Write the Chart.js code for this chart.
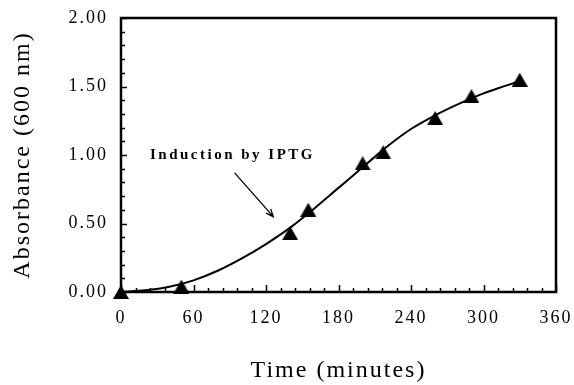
<!DOCTYPE html>
<html>
<head>
<meta charset="utf-8">
<script src="https://cdn.jsdelivr.net/npm/chart.js@4.4.1/dist/chart.umd.min.js"></script>
<style>
  html, body { margin: 0; padding: 0; background: #fff; }
  #wrap { width: 574px; height: 385px; }
</style>
</head>
<body>
<div id="wrap"><canvas id="chart" width="574" height="385"></canvas></div>
<script>
// measured points (triangles)
const timeMin = [0, 50, 140, 155, 200, 217, 260, 290, 330];
const absorb = [0.00, 0.04, 0.43, 0.60, 0.94, 1.02, 1.27, 1.43, 1.55];

// fitted growth curve
const curveTime = [0, 20, 40, 60, 80, 100, 120, 140, 160, 180, 200, 220, 240, 260, 280, 300, 320, 330];
const curveAbs = [0.00, 0.012, 0.038, 0.085, 0.155, 0.245, 0.35, 0.47, 0.61, 0.76, 0.91, 1.06, 1.19, 1.29, 1.375, 1.45, 1.51, 1.54];

const xTicks = [0, 60, 120, 180, 240, 300, 360];
const xMinor = [12, 24, 36, 48, 72, 84, 96, 108, 132, 144, 156, 168, 192, 204, 216, 228, 252, 264, 276, 288, 312, 324, 336, 348];
const yTicks = [0, 0.5, 1.0, 1.5, 2.0];
const yMinor = [0.1, 0.2, 0.3, 0.4, 0.6, 0.7, 0.8, 0.9, 1.1, 1.2, 1.3, 1.4, 1.6, 1.7, 1.8, 1.9];

const noteText = "Induction by IPTG";
const notePos = [24, 0.97];
const arrowFrom = [94, 0.87];
const arrowTo = [126, 0.55];

const SERIF = "'Liberation Serif', 'Times New Roman', serif";

// triangle marker centred on its bounding box
function makeTriangle(w, h) {
  const c = document.createElement("canvas");
  c.width = w;
  c.height = h;
  const g = c.getContext("2d");
  g.fillStyle = "#000";
  g.beginPath();
  g.moveTo(w / 2, 0);
  g.lineTo(w, h);
  g.lineTo(0, h);
  g.closePath();
  g.fill();
  return c;
}
const tri = makeTriangle(16, 14);

const spacing = {
  id: "spacing",
  beforeLayout(chart) { chart.ctx.letterSpacing = "2px"; },
  beforeDraw(chart) { chart.ctx.letterSpacing = "2px"; },
};

const frame = {
  id: "frame",
  beforeDatasetsDraw(chart) {
    const { ctx, chartArea: a, scales } = chart;
    const sx = scales.x, sy = scales.y;
    ctx.save();
    ctx.strokeStyle = "#000";
    // inside tick marks
    ctx.lineWidth = 1.5;
    ctx.beginPath();
    xTicks.forEach((v) => {
      const px = Math.round(sx.getPixelForValue(v)) + 0.5;
      ctx.moveTo(px, a.bottom);
      ctx.lineTo(px, a.bottom - 7);
    });
    xMinor.forEach((v) => {
      const px = Math.round(sx.getPixelForValue(v)) + 0.5;
      ctx.moveTo(px, a.bottom);
      ctx.lineTo(px, a.bottom - 4);
    });
    yTicks.forEach((v) => {
      const py = Math.round(sy.getPixelForValue(v)) + 0.5;
      ctx.moveTo(a.left, py);
      ctx.lineTo(a.left + 6, py);
    });
    yMinor.forEach((v) => {
      const py = Math.round(sy.getPixelForValue(v)) + 0.5;
      ctx.moveTo(a.left, py);
      ctx.lineTo(a.left + 4, py);
    });
    ctx.stroke();
    ctx.lineWidth = 2.5;
    ctx.strokeRect(a.left, a.top, a.right - a.left, a.bottom - a.top);

    // annotation
    ctx.letterSpacing = "2.5px";
    ctx.fillStyle = "#000";
    ctx.font = "bold 15px " + SERIF;
    ctx.textBaseline = "alphabetic";
    ctx.fillText(noteText, sx.getPixelForValue(notePos[0]), sy.getPixelForValue(notePos[1]));
    const x1 = sx.getPixelForValue(arrowFrom[0]), y1 = sy.getPixelForValue(arrowFrom[1]);
    const x2 = sx.getPixelForValue(arrowTo[0]), y2 = sy.getPixelForValue(arrowTo[1]);
    ctx.lineWidth = 1.3;
    ctx.beginPath();
    ctx.moveTo(x1, y1);
    ctx.lineTo(x2, y2);
    const ang = Math.atan2(y2 - y1, x2 - x1);
    const hl = 8;
    ctx.moveTo(x2 - hl * Math.cos(ang - 0.4), y2 - hl * Math.sin(ang - 0.4));
    ctx.lineTo(x2, y2);
    ctx.lineTo(x2 - hl * Math.cos(ang + 0.4), y2 - hl * Math.sin(ang + 0.4));
    ctx.stroke();
    ctx.restore();
  },
};

new Chart(document.getElementById("chart"), {
  type: "scatter",
  data: {
    datasets: [
      {
        type: "line",
        data: curveTime.map((t, i) => ({ x: t, y: curveAbs[i] })),
        borderColor: "#000",
        borderWidth: 2,
        pointRadius: 0,
        fill: false,
        cubicInterpolationMode: "monotone",
        order: 2,
      },
      {
        data: timeMin.map((t, i) => ({ x: t, y: absorb[i] })),
        pointStyle: tri,
        backgroundColor: "#000",
        clip: false,
        order: 1,
      },
    ],
  },
  options: {
    responsive: false,
    animation: false,
    layout: { padding: { left: 0, right: 18, top: 18, bottom: 0 } },
    plugins: { legend: { display: false }, tooltip: { enabled: false } },
    scales: {
      x: {
        type: "linear",
        min: 0,
        max: 360,
        afterBuildTicks: (s) => { s.ticks = xTicks.map((v) => ({ value: v })); },
        afterFit: (s) => {
          s.height = 93;
          s.paddingLeft = 0;
          s.paddingRight = 0;
        },
        grid: { display: false, drawTicks: false },
        border: { display: false },
        ticks: {
          color: "#000",
          padding: 15,
          maxRotation: 0,
          font: { family: SERIF, size: 18 },
        },
        title: {
          display: true,
          text: "Time (minutes)",
          color: "#000",
          font: { family: SERIF, size: 24 },
          padding: { top: 0, bottom: 0 },
        },
      },
      y: {
        min: 0,
        max: 2,
        afterBuildTicks: (s) => { s.ticks = yTicks.map((v) => ({ value: v })); },
        afterFit: (s) => {
          s.width = 121;
          s.paddingTop = 0;
          s.paddingBottom = 0;
        },
        grid: { display: false, drawTicks: false },
        border: { display: false },
        ticks: {
          color: "#000",
          padding: 13,
          font: { family: SERIF, size: 18 },
          callback: (v) => v.toFixed(2),
        },
        title: {
          display: true,
          text: "Absorbance (600 nm)",
          color: "#000",
          font: { family: SERIF, size: 24 },
          padding: { top: 8, bottom: 0 },
        },
      },
    },
  },
  plugins: [spacing, frame],
});
</script>
</body>
</html>
